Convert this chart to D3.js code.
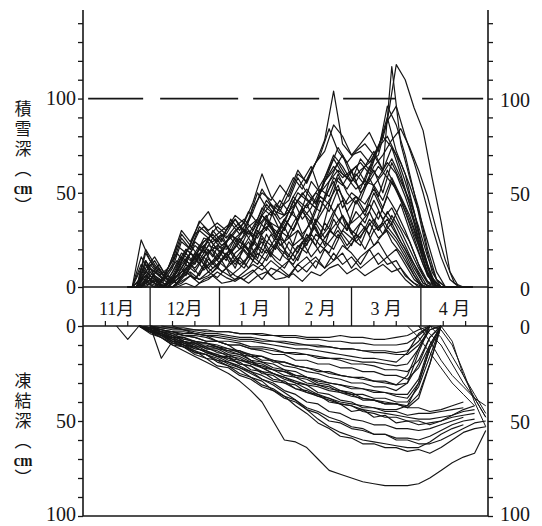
<!DOCTYPE html>
<html>
<head>
<meta charset="utf-8">
<script src="https://cdn.jsdelivr.net/npm/d3@7"></script>
<style>
  html, body { margin: 0; padding: 0; background: #fff; }
  #chart { position: relative; width: 542px; height: 526px; }
  svg { display: block; }
  .ytitle {
    position: absolute;
    writing-mode: vertical-rl;
    font-family: 'Noto Sans CJK JP', sans-serif;
    font-size: 17px;
    line-height: 17px;
    letter-spacing: 3px;
    color: #161616;
    white-space: nowrap;
  }
  .tcu { text-combine-upright: all; font-family: 'Liberation Serif', serif; font-weight: bold; }
</style>
</head>
<body>
<div id="chart"></div>
<script>
// 日数は11月1日からの経過日数
const monthNames = ["11月", "12月", "1 月", "2 月", "3 月", "4 月"];
const monthStarts = [0, 30, 61, 92, 120, 151, 181];
const decadeTicks = [10, 20, 40, 50, 71, 81, 102, 112, 130, 140, 161, 171];
const snowTicks = [0, 10, 20, 30, 40, 50, 60, 70, 80, 90, 100, 110, 120, 130, 140];
const frostTicks = [0, 10, 20, 30, 40, 50, 60, 70, 80, 90, 100];
const snowTitle = ["積雪深（", "cm", "）"];
const frostTitle = ["凍結深（", "cm", "）"];

// 積雪深 (cm) — 観測日は2系列 (A: 20日目から4日おき, B: 22日目から4日おき)
const snowDaysA = [20,24,28,32,36,40,44,48,52,56,60,64,68,72,76,80,84,88,92,96,100,104,108,112,116,120,124,128,132,136,140,144,148,152,156,160,164,168,172];
const snowDaysB = [22,26,30,34,38,42,46,50,54,58,62,66,70,74,78,82,86,90,94,98,102,106,110,114,118,122,126,130,134,138,142,146,150,154,158,162,166,170,174];
const snow01 = [0,0,6,3,0,4,12,18,14,22,20,17,26,30,27,38,34,31,40,46,52,45,56,64,58,62,66,60,74,88,118,110,95,83,58,35,8,0,0];
const snow02 = [0,0,4,10,3,6,14,22,18,26,20,28,24,32,36,30,44,38,48,42,56,50,62,74,66,56,64,72,62,117,76,58,42,20,4,0,0,0,0];
const snow03 = [0,0,14,6,3,10,24,20,30,26,32,28,36,30,40,52,44,40,50,62,55,66,78,104,76,70,72,66,74,90,72,60,40,18,4,0,0,0,0];
const snow04 = [0,0,20,12,6,14,28,22,35,30,34,30,38,34,45,60,48,42,46,58,50,44,56,62,70,58,52,64,58,66,60,48,34,18,5,0,0,0,0];
const snow05 = [0,25,14,8,4,12,20,16,24,28,22,26,20,30,26,34,28,36,30,40,34,46,40,52,44,48,40,54,46,58,48,38,24,10,0,0,0,0,0];
const snow06 = [0,0,12,8,4,16,30,24,34,40,30,26,32,36,30,42,38,46,40,36,44,50,46,58,54,62,50,56,64,58,52,42,30,14,2,0,0,0,0];
const snow07 = [0,0,8,2,6,2,10,16,9,14,20,12,18,24,15,28,20,32,22,26,36,26,32,44,30,40,34,46,36,42,32,24,12,3,0,0,0,0,0];
const snow08 = [0,0,4,2,0,3,8,12,6,15,10,18,12,20,14,26,18,14,24,18,28,22,34,28,38,30,26,36,30,40,32,22,12,2,0,0,0,0,0];
const snow09 = [0,16,8,2,0,8,18,12,22,16,26,18,24,30,22,36,28,24,34,42,30,38,46,54,40,48,44,52,42,56,46,34,22,8,0,0,0,0,0];
const snow10 = [0,0,6,2,0,4,16,12,20,24,14,10,18,22,16,28,34,22,26,30,24,36,30,40,46,34,38,44,36,48,40,30,18,6,0,0,0,0,0];
const snow11 = [0,5,2,0,0,6,10,4,12,8,14,6,10,16,12,20,14,10,18,24,16,22,18,28,20,26,32,22,28,34,24,16,8,0,0,0,0,0,0];
const snow12 = [0,0,3,0,0,0,5,8,4,6,10,7,4,8,12,9,14,10,6,12,16,10,20,14,22,18,12,20,24,16,20,12,4,0,0,0,0,0,0];
const snow13 = [0,10,4,0,2,4,12,8,16,10,14,20,12,16,22,18,26,20,14,24,28,22,30,26,34,24,30,36,28,38,30,20,10,2,0,0,0,0,0];
const snow14 = [0,0,2,0,0,0,3,6,2,4,8,5,3,6,9,4,10,8,5,12,8,14,10,18,12,16,10,14,18,12,14,6,2,0,0,0,0,0,0];
const snow15 = [0,0,0,0,0,0,2,0,4,6,2,3,5,2,6,8,4,5,7,3,8,6,10,12,7,10,6,9,12,8,10,4,0,0,0,0,0,0,0];
const snow16 = [0,0,18,10,4,12,26,20,32,28,24,30,36,28,42,50,46,54,48,60,56,66,72,86,80,70,76,82,72,96,86,70,50,28,8,0,0,0,0];
const snow17 = [0,12,6,2,10,22,18,28,32,26,30,34,28,36,50,42,38,48,58,52,62,70,84,72,66,72,76,70,80,74,60,44,24,6,0,0,0,0,0];
const snow18 = [0,0,8,4,0,8,18,14,22,26,20,24,30,34,26,38,44,36,40,50,46,42,58,70,64,56,68,62,74,80,70,56,40,20,4,0,0,0,0];
const snow19 = [0,0,4,0,2,6,14,10,16,20,14,18,24,20,28,32,26,36,30,42,36,48,44,58,52,60,54,64,70,78,84,74,62,48,30,14,2,0,0];
const snow20 = [0,0,6,2,0,6,16,12,20,18,22,20,26,22,30,38,32,28,36,46,42,50,58,68,60,56,62,66,70,88,96,80,66,50,32,16,4,0,0];
const snow21 = [0,0,10,6,2,8,20,16,26,24,28,26,32,28,36,46,40,38,48,56,64,50,56,62,58,52,56,54,60,68,58,44,28,12,0,0,0,0,0];
const snow22 = [0,0,14,6,0,6,10,18,12,20,14,22,16,12,24,18,28,20,16,30,22,34,26,32,38,28,34,40,30,36,28,20,10,2,0,0,0,0,0];
const snow23 = [0,0,6,12,4,2,8,14,20,12,18,28,22,16,30,24,20,32,40,28,34,26,44,36,30,46,38,50,40,34,44,30,18,6,0,0,0,0,0];
const snow24 = [0,0,2,6,2,0,4,10,16,8,12,18,10,22,16,12,20,26,14,22,18,28,24,20,30,26,22,34,26,30,24,16,6,0,0,0,0,0,0];
const snow25 = [0,0,8,14,6,2,6,12,18,10,16,22,14,10,18,24,16,28,20,14,26,32,22,36,28,22,34,28,40,32,26,18,8,0,0,0,0,0,0];
const snow26 = [0,0,2,4,0,4,8,4,10,14,8,12,16,10,18,14,22,16,12,20,26,18,24,30,22,28,20,30,34,24,18,10,2,0,0,0,0,0,0];
const snow27 = [0,0,10,16,8,4,14,22,16,26,20,14,24,30,22,34,40,30,26,36,44,34,48,56,42,50,46,58,48,62,52,40,26,12,2,0,0,0,0];
const snow28 = [0,0,6,2,8,14,6,18,12,22,28,18,26,20,32,38,26,34,46,36,42,52,48,60,50,44,54,62,50,66,56,46,32,16,4,0,0,0,0];
const snow29 = [0,0,0,4,2,0,2,6,4,8,5,10,6,4,8,12,6,10,14,8,12,16,10,14,18,10,16,20,12,16,10,4,0,0,0,0,0,0,0];
const snow30 = [0,4,12,6,10,18,12,24,20,30,24,36,30,40,34,44,38,30,42,50,44,40,56,66,58,64,56,70,62,74,66,54,40,24,8,0,0,0,0];

// 凍結深 (cm)
const frostDays = [15,20,25,30,35,40,45,50,55,60,65,70,75,80,85,90,95,100,105,110,115,120,125,130,135,140,145,150,155,160,165,170,175,180];
const frost01 = [null,null,0,3,6,10,13,16,19,22,25,29,34,40,50,60,61,64,70,76,78,80,82,83,84,84,84,83,80,76,72,69,67,55];
const frost02 = [null,null,0,2,5,8,11,13,17,18,21,23,27,29,34,37,42,46,51,54,58,59,62,62,64,64,66,65,67,64,60,56,54,53];
const frost03 = [null,null,0,3,6,9,11,15,17,21,22,26,28,32,34,38,40,44,46,50,51,54,55,57,57,59,59,60,58,55,52,50,49,null];
const frost04 = [null,null,0,4,6,10,11,14,15,18,19,22,24,28,30,34,36,40,41,45,46,49,50,52,52,54,54,55,54,52,50,48,null,null];
const frost05 = [null,null,0,3,4,8,9,12,13,16,16,20,21,25,26,30,31,35,36,40,41,45,44,48,47,51,50,52,51,50,48,47,46,null];
const frost06 = [null,null,null,0,3,5,8,9,12,13,16,17,20,22,25,27,30,31,35,36,39,40,43,43,45,45,47,46,46,45,44,43,null,null];
const frost07 = [null,null,0,2,5,6,9,9,12,12,15,16,19,20,23,24,27,28,31,32,35,36,39,39,41,41,43,38,20,0,null,null,null,null];
const frost08 = [null,null,0,3,4,7,8,11,11,14,15,18,19,22,23,26,27,30,31,33,34,36,36,38,38,40,40,32,16,0,null,null,null,null];
const frost09 = [null,null,null,0,17,8,8,10,10,12,13,15,16,19,20,23,24,27,28,30,31,33,33,35,35,37,38,30,12,0,null,null,null,null];
const frost10 = [null,null,0,2,3,5,6,8,9,11,12,14,15,18,18,21,22,24,25,27,28,30,30,32,32,34,30,14,0,null,null,null,null,null];
const frost11 = [0,7,0,2,4,6,7,8,9,10,12,13,15,16,18,19,21,22,23,25,26,27,28,29,30,31,26,12,0,null,null,null,null,null];
const frost12 = [null,null,0,1,3,3,5,6,8,8,10,10,12,13,15,15,18,18,20,20,22,22,24,24,26,26,28,22,10,0,null,null,null,null];
const frost13 = [null,null,null,0,2,3,5,5,6,8,8,9,11,11,12,14,14,15,17,17,18,20,20,21,23,23,24,18,6,0,null,null,null,null];
const frost14 = [null,null,0,1,2,3,4,4,5,6,7,8,8,9,10,11,12,12,13,14,15,16,17,17,18,19,14,4,0,null,null,null,null,null];
const frost15 = [null,null,null,0,1,2,2,3,4,4,5,6,6,7,8,8,9,10,10,11,12,12,13,14,14,15,15,10,2,0,null,null,null,null];
const frost16 = [null,null,null,null,0,1,1,2,2,3,3,4,4,5,5,6,6,7,7,8,8,9,9,10,10,10,9,5,0,null,null,null,null,null];
const frost17 = [null,null,0,3,5,9,10,14,15,19,21,25,27,31,33,37,39,43,45,48,50,53,54,57,57,60,60,62,62,60,57,54,51,50];
const frost18 = [null,null,0,2,5,7,10,11,14,15,18,19,23,24,28,29,33,34,37,38,41,42,45,46,48,48,50,50,52,50,47,44,42,null];
const frost19 = [null,null,0,1,3,4,7,8,11,11,14,15,18,19,22,23,26,27,30,31,34,35,38,39,41,41,43,43,45,44,42,40,null,null];
const frost20 = [null,null,0,2,4,7,10,13,15,17,20,22,25,28,31,35,39,44,49,53,56,58,60,61,62,63,64,64,61,57,54,52,null,null];
const frost21 = [null,null,null,0,1,1,2,2,3,3,3,4,4,4,5,5,5,6,6,6,5,6,6,7,7,6,5,2,0,null,null,null,null,null];
const frost22 = [null,null,0,1,2,3,3,4,5,5,6,7,7,8,8,9,10,10,11,11,12,12,13,13,13,14,13,8,0,null,null,null,null,null];
const frost23 = [null,null,null,null,null,0,2,4,5,8,10,14,18,22,25,28,30,33,36,38,40,41,42,43,44,44,42,30,12,0,null,null,null,null];
const frost24 = [null,null,0,2,3,6,6,9,9,11,13,13,16,16,19,19,21,22,24,24,26,27,27,29,29,31,30,20,6,0,null,null,null,null];
const frost25 = [null,null,0,3,5,8,10,12,13,16,17,20,21,24,25,27,29,31,32,34,35,37,38,39,40,41,42,36,20,0,null,null,null,null];
const frost26 = [null,null,0,2,4,6,9,11,14,16,19,21,24,26,29,30,33,35,37,39,41,42,44,45,46,47,48,49,49,48,47,45,44,null];
const frost27 = [null,null,null,0,2,4,5,6,8,8,10,10,12,12,13,14,15,15,16,17,17,18,19,19,20,21,20,12,2,0,null,null,null,null];
const frost28 = [null,null,0,1,3,5,8,10,13,15,17,18,20,21,23,24,26,27,29,30,31,32,33,34,35,36,36,28,10,0,null,null,null,null];

// 融解前線 [日, 深さ]
const thaw01 = [[150,0],[155,4],[160,10],[165,20],[170,30],[175,38],[180,48]];
const thaw02 = [[155,0],[160,6],[165,16],[170,26],[175,36],[180,46]];
const thaw03 = [[155,0],[160,2],[165,10],[170,24],[175,40],[180,53]];
const thaw04 = [[145,0],[150,6],[155,14],[160,22],[165,30],[170,36],[175,42]];
const thaw05 = [[160,0],[165,8],[170,26],[175,38],[180,48]];
const thaw06 = [[150,0],[155,8],[160,18],[165,26],[170,32],[175,38],[180,42]];

const snowLinesA = [snow01, snow03, snow04, snow06, snow08, snow10, snow12, snow14, snow16, snow18, snow20, snow22, snow24,
  snow25, snow27, snow29];
const snowLinesB = [snow02, snow05, snow07, snow09, snow11, snow13, snow15, snow17, snow19, snow21, snow23,
  snow26, snow28, snow30];
const frostLines = [frost01, frost02, frost03, frost04, frost05, frost06, frost07, frost08, frost09, frost10, frost11, frost12,
  frost13, frost14, frost15, frost16, frost17, frost18, frost19, frost20, frost21, frost22, frost23, frost24, frost25,
  frost26, frost27, frost28];
const thawLines = [thaw01, thaw02, thaw03, thaw04, thaw05, thaw06];

function drawChart() {
  const width = 542, height = 526;
  const ink = "#161616";
  const serif = "'Liberation Serif', 'DejaVu Serif', 'Noto Sans CJK JP', serif";
  const container = d3.select("#chart");

  const svg = container.append("svg")
    .attr("width", width)
    .attr("height", height)
    .style("background", "#fff");

  const x = d3.scaleLinear().domain([0, 181]).range([83, 488]);
  const ySnow = d3.scaleLinear().domain([0, 147]).range([287, 10]);
  const yFrost = d3.scaleLinear().domain([0, 100]).range([326, 516]);

  // 積雪深の折れ線
  function drawSnow(lines, days) {
    const line = d3.line()
      .x((d, i) => x(days[i]))
      .y(d => ySnow(d));
    svg.append("g")
      .selectAll("path")
      .data(lines)
      .join("path")
      .attr("d", line)
      .attr("fill", "none")
      .attr("stroke", ink)
      .attr("stroke-width", 1.2)
      .attr("stroke-linejoin", "round");
  }
  drawSnow(snowLinesA, snowDaysA);
  drawSnow(snowLinesB, snowDaysB);

  // 凍結深の折れ線
  const frostLine = d3.line()
    .defined(d => d != null)
    .x((d, i) => x(frostDays[i]))
    .y(d => yFrost(d));

  svg.append("g")
    .selectAll("path")
    .data(frostLines)
    .join("path")
    .attr("d", frostLine)
    .attr("fill", "none")
    .attr("stroke", ink)
    .attr("stroke-width", 1.15)
    .attr("stroke-linejoin", "round");

  const thawLine = d3.line()
    .x(d => x(d[0]))
    .y(d => yFrost(d[1]));

  svg.append("g")
    .selectAll("path")
    .data(thawLines)
    .join("path")
    .attr("d", thawLine)
    .attr("fill", "none")
    .attr("stroke", ink)
    .attr("stroke-width", 1)
    .attr("stroke-linejoin", "round");

  // 100cm 破線
  svg.append("line")
    .attr("x1", x(2.3)).attr("x2", x(179))
    .attr("y1", ySnow(100)).attr("y2", ySnow(100))
    .attr("stroke", ink)
    .attr("stroke-width", 1.8)
    .attr("stroke-dasharray", "55,17,78,15,66,24,52,27,61");

  // 軸
  const styleAxis = g => {
    g.select(".domain").remove();
    g.selectAll("line").attr("stroke", ink).attr("stroke-width", 1.3);
    g.attr("font-family", serif).attr("font-size", 20);
    g.selectAll("text").attr("fill", ink);
  };
  const fmt = d => d % 50 === 0 ? d : "";

  svg.append("g")
    .attr("transform", `translate(${x(0)},0)`)
    .call(d3.axisLeft(ySnow).tickValues(snowTicks).tickFormat(fmt).tickSize(5).tickPadding(2))
    .call(styleAxis);

  svg.append("g")
    .attr("transform", `translate(${x(0)},0)`)
    .call(d3.axisLeft(yFrost).tickValues(frostTicks).tickFormat(fmt).tickSize(5).tickPadding(2))
    .call(styleAxis)
    .call(g => g.selectAll(".tick").filter(d => d === 100).select("text").attr("dy", "0.2em"));

  svg.append("g")
    .attr("transform", `translate(${x(181)},0)`)
    .call(d3.axisRight(ySnow).tickValues(snowTicks).tickFormat(fmt).tickSize(5))
    .call(styleAxis)
    .call(g => g.selectAll("text").attr("text-anchor", "end").attr("x", 42).attr("dy", "0.4em"));

  svg.append("g")
    .attr("transform", `translate(${x(181)},0)`)
    .call(d3.axisRight(yFrost).tickValues(frostTicks).tickFormat(fmt).tickSize(5))
    .call(styleAxis)
    .call(g => g.selectAll("text").attr("text-anchor", "end").attr("x", 42).attr("dy", "0.36em"))
    .call(g => g.selectAll(".tick").filter(d => d === 100).select("text").attr("dy", "0.2em"));

  const frame = svg.append("g").attr("stroke", ink).attr("stroke-width", 1.6);
  frame.append("line").attr("x1", x(0)).attr("x2", x(0)).attr("y1", ySnow(147)).attr("y2", yFrost(100));
  frame.append("line").attr("x1", x(181)).attr("x2", x(181)).attr("y1", ySnow(147)).attr("y2", yFrost(100));
  frame.append("line").attr("x1", x(0)).attr("x2", x(181)).attr("y1", ySnow(0)).attr("y2", ySnow(0));
  frame.append("line").attr("x1", x(0)).attr("x2", x(181)).attr("y1", yFrost(0)).attr("y2", yFrost(0));
  frame.append("line").attr("x1", x(0)).attr("x2", x(181)).attr("y1", yFrost(100)).attr("y2", yFrost(100));

  // 月の帯
  svg.append("g")
    .selectAll("line")
    .data(monthStarts.slice(1, -1))
    .join("line")
    .attr("x1", d => x(d)).attr("x2", d => x(d))
    .attr("y1", ySnow(0)).attr("y2", yFrost(0))
    .attr("stroke", ink)
    .attr("stroke-width", 1.3);

  svg.append("g")
    .selectAll("line")
    .data(decadeTicks)
    .join("line")
    .attr("x1", d => x(d)).attr("x2", d => x(d))
    .attr("y1", yFrost(0) - 5).attr("y2", yFrost(0))
    .attr("stroke", ink)
    .attr("stroke-width", 1.2);

  svg.append("g")
    .selectAll("text")
    .data(monthNames)
    .join("text")
    .attr("x", (d, i) => x((monthStarts[i] + monthStarts[i + 1]) / 2))
    .attr("y", (ySnow(0) + yFrost(0)) / 2 + 2)
    .attr("text-anchor", "middle")
    .attr("dominant-baseline", "central")
    .attr("font-family", serif)
    .attr("font-size", 18)
    .attr("fill", ink)
    .text(d => d);

  // 縦書きの軸名
  const drawTitle = (parts, top) => {
    const div = container.append("div")
      .attr("class", "ytitle")
      .style("left", "14.5px")
      .style("top", `${top}px`);
    parts.forEach(p => {
      div.append("span").attr("class", p === "cm" ? "tcu" : null).text(p);
    });
  };
  drawTitle(snowTitle, 99.5);
  drawTitle(frostTitle, 371.5);
}

drawChart();
</script>
</body>
</html>
